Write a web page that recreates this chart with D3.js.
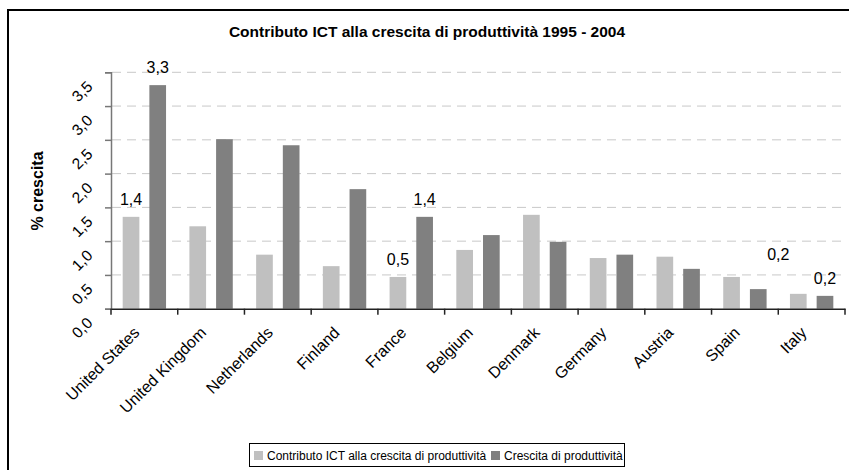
<!DOCTYPE html>
<html>
<head>
<meta charset="utf-8">
<script src="https://cdn.jsdelivr.net/npm/d3@7"></script>
<style>
  html, body { margin: 0; padding: 0; background: #fff; }
  svg { display: block; font-family: "Liberation Sans", Arial, sans-serif; }
</style>
</head>
<body>
<svg id="chart" width="849" height="470"></svg>
<script>
const title = "Contributo ICT alla crescita di produttività 1995 - 2004";
const yAxisTitle = "% crescita";
const categories = ["United States","United Kingdom","Netherlands","Finland","France","Belgium","Denmark","Germany","Austria","Spain","Italy"];
const seriesNames = ["Contributo ICT alla crescita di produttività", "Crescita di produttività"];
const ictContribution = [1.36, 1.22, 0.80, 0.63, 0.47, 0.87, 1.39, 0.75, 0.77, 0.47, 0.22];
const productivityGrowth = [3.31, 2.51, 2.42, 1.77, 1.36, 1.09, 0.99, 0.80, 0.59, 0.29, 0.19];
const yTicks = [0, 0.5, 1.0, 1.5, 2.0, 2.5, 3.0, 3.5];
const yTickLabels = ["0,0","0,5","1,0","1,5","2,0","2,5","3,0","3,5"];
// data labels shown on selected bars: [category, series index, text]
const dataLabels = [
  ["United States", 0, "1,4"],
  ["United States", 1, "3,3"],
  ["France", 0, "0,5"],
  ["France", 1, "1,4"],
  ["Italy", 0, "0,2"],
  ["Italy", 1, "0,2"]
];
const colors = ["#c0c0c0", "#808080"];

const svg = d3.select("#chart");
const plotLeft = 111, plotRight = 845, plotTop = 72.3, plotBottom = 308.7;

// outer border
svg.append("rect").attr("x", 8).attr("y", 10).attr("width", 860).attr("height", 480)
  .attr("fill", "#fff").attr("stroke", "#000").attr("stroke-width", 2);

const x = d3.scaleBand().domain(categories).range([plotLeft, plotRight]).padding(0);
const y = d3.scaleLinear().domain([0, 3.5]).range([plotBottom, plotTop]);

// gridlines
svg.append("g").selectAll("line").data(yTicks.filter(d => d > 0)).join("line")
  .attr("x1", plotLeft + 1).attr("x2", plotRight - 3)
  .attr("y1", d => y(d)).attr("y2", d => y(d))
  .attr("stroke", "#c8c8c8").attr("stroke-width", 1).attr("stroke-dasharray", "9,6");

// bars
const seriesData = [ictContribution, productivityGrowth];
const bw = x.bandwidth();
seriesData.forEach((vals, si) => {
  svg.append("g").selectAll("rect").data(vals).join("rect")
    .attr("x", (d, i) => x(categories[i]) + bw * (si === 0 ? 0.175 : 0.575))
    .attr("width", bw * 0.25)
    .attr("y", d => y(d))
    .attr("height", d => plotBottom - y(d))
    .attr("fill", colors[si]);
});

// y axis
const yAxis = d3.axisLeft(y).tickValues(yTicks).tickSize(6).tickFormat("");
const yg = svg.append("g").attr("transform", `translate(${plotLeft},0)`).call(yAxis);
yg.select(".domain").attr("stroke", "#777").attr("stroke-width", 1.5);
yg.selectAll(".tick line").attr("stroke", "#777").attr("stroke-width", 1.5);
svg.append("g").selectAll("text").data(yTicks).join("text")
  .attr("transform", (d) => `translate(83,${y(d) + 20}) rotate(-45)`)
  .attr("text-anchor", "middle").attr("dominant-baseline", "middle")
  .attr("font-size", 15.5).attr("fill", "#000")
  .text((d, i) => yTickLabels[i]);

// x axis
const xAxis = d3.axisBottom(x).tickSize(0).tickFormat("");
const xg = svg.append("g").attr("transform", `translate(0,${plotBottom})`).call(xAxis);
xg.select(".domain").attr("stroke", "#222").attr("stroke-width", 1.5);
const boundaries = categories.map(c => x(c)).concat([plotRight]);
svg.append("g").selectAll("line").data(boundaries).join("line")
  .attr("x1", d => d).attr("x2", d => d)
  .attr("y1", plotBottom).attr("y2", plotBottom + 6)
  .attr("stroke", "#222").attr("stroke-width", 1.5);
svg.append("g").selectAll("text").data(categories).join("text")
  .attr("transform", d => `translate(${x(d) + bw / 2 - 4},${plotBottom + 25}) rotate(-45)`)
  .attr("text-anchor", "end")
  .attr("font-size", 16).attr("fill", "#000")
  .text(d => d);

// data labels
svg.append("g").selectAll("text").data(dataLabels).join("text")
  .attr("x", d => {
    const cx = x(d[0]) + bw * (d[1] === 0 ? 0.3 : 0.7);
    return (d[0] === "Italy" && d[1] === 0) ? cx - 20 : cx;
  })
  .attr("y", d => {
    const idx = categories.indexOf(d[0]);
    const v = seriesData[d[1]][idx];
    return y(v) - 12 - ((d[0] === "Italy" && d[1] === 0) ? 22 : 0);
  })
  .attr("text-anchor", "middle").attr("font-size", 16).attr("fill", "#000")
  .text(d => d[2]);

// title
svg.append("text").attr("x", 427).attr("y", 37).attr("text-anchor", "middle")
  .attr("font-size", 15.5).attr("font-weight", "bold").text(title);

// y axis title
svg.append("text").attr("transform", "translate(43,191) rotate(-90)")
  .attr("text-anchor", "middle").attr("font-size", 16).attr("font-weight", "bold")
  .text(yAxisTitle);

// legend
const lg = svg.append("g");
lg.append("rect").attr("x", 249.5).attr("y", 443.5).attr("width", 375).attr("height", 23)
  .attr("fill", "#fff").attr("stroke", "#000").attr("stroke-width", 1);
const legendX = [254, 491];
seriesNames.forEach((name, i) => {
  lg.append("rect").attr("x", legendX[i]).attr("y", 451).attr("width", 9).attr("height", 9)
    .attr("fill", colors[i]);
  lg.append("text").attr("x", legendX[i] + 13).attr("y", 460)
    .attr("font-size", 12).attr("fill", "#000").text(name);
});
</script>
</body>
</html>
